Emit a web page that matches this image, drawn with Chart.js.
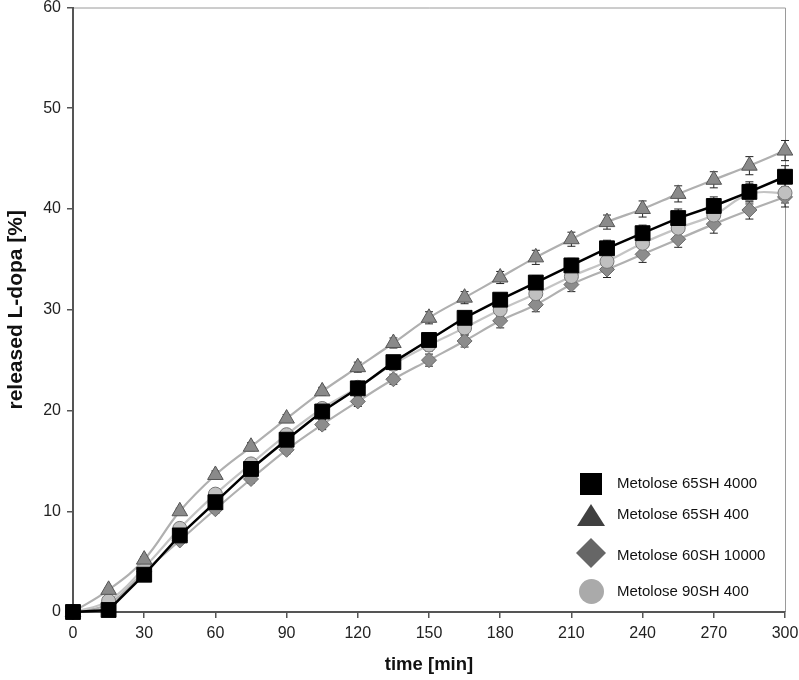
<!DOCTYPE html>
<html>
<head>
<meta charset="utf-8">
<script src="https://cdn.jsdelivr.net/npm/chart.js@4"></script>
<style>
html,body{margin:0;padding:0;background:#fff;overflow:hidden;}
#wrap{width:799px;height:680px;position:relative;overflow:hidden;}
#c{position:absolute;left:0;top:-4px;}
</style>
</head>
<body>
<div id="wrap"><canvas id="c" width="799" height="684"></canvas></div>
<script>
const times = [0,15,30,45,60,75,90,105,120,135,150,165,180,195,210,225,240,255,270,285,300];
const xTicks = [0,30,60,90,120,150,180,210,240,270,300];
const yTicks = [0,10,20,30,40,50,60];
const seriesNames = ['Metolose 65SH 4000','Metolose 65SH 400','Metolose 60SH 10000','Metolose 90SH 400'];
const sq65_4000 = [0,0.2,3.7,7.6,10.9,14.2,17.1,19.9,22.2,24.8,27.0,29.2,31.0,32.7,34.4,36.1,37.6,39.1,40.3,41.7,43.2];
const tri65_400 = [0,2.2,5.2,10.0,13.6,16.4,19.2,21.9,24.3,26.7,29.2,31.2,33.2,35.2,37.0,38.7,40.0,41.5,42.9,44.3,45.8];
const dia60_10000 = [0,0.8,4.0,7.1,10.2,13.2,16.1,18.6,20.9,23.1,25.0,26.9,28.9,30.5,32.5,34.0,35.5,37.0,38.5,39.9,41.2];
const cir90_400 = [0,1.1,4.4,8.3,11.7,14.7,17.6,20.2,22.3,24.6,26.5,28.2,30.0,31.6,33.3,34.8,36.6,38.1,39.4,41.5,41.6];
const errSq = [0,0.1,0.2,0.3,0.3,0.4,0.4,0.5,0.5,0.5,0.6,0.6,0.6,0.7,0.7,0.8,0.8,0.9,0.9,1.0,1.1];
const errTri = [0,0.2,0.3,0.3,0.4,0.4,0.4,0.4,0.5,0.5,0.6,0.6,0.6,0.7,0.7,0.7,0.8,0.8,0.8,0.9,1.0];
const errDia = [0,0.2,0.3,0.3,0.4,0.4,0.4,0.5,0.5,0.5,0.6,0.6,0.7,0.7,0.7,0.8,0.8,0.8,0.9,0.9,1.0];
const errCir = [0,0.2,0.3,0.3,0.4,0.4,0.5,0.5,0.5,0.6,0.6,0.7,0.7,0.7,0.8,0.8,0.9,0.9,1.0,1.0,1.0];

function pts(arr){ return times.map((t,i)=>({x:t,y:arr[i]})); }

const errorBars = {
  id:'errorBars',
  beforeDatasetsDraw(chart){
    const ctx = chart.ctx, xs = chart.scales.x, ys = chart.scales.y;
    ctx.save();
    ctx.strokeStyle = '#222'; ctx.lineWidth = 1;
    chart.data.datasets.forEach(ds=>{
      ds.data.forEach((p,i)=>{
        const e = ds.err[i]; if(!e) return;
        const x = xs.getPixelForValue(p.x);
        const y1 = ys.getPixelForValue(p.y+e), y2 = ys.getPixelForValue(p.y-e);
        ctx.beginPath();
        ctx.moveTo(x,y1); ctx.lineTo(x,y2);
        ctx.moveTo(x-4,y1); ctx.lineTo(x+4,y1);
        ctx.moveTo(x-4,y2); ctx.lineTo(x+4,y2);
        ctx.stroke();
      });
    });
    ctx.restore();
  }
};

const OFF = 4; // canvas is shifted up by this many pixels
const frameAndLegend = {
  id:'frameAndLegend',
  beforeDraw(chart){
    const ctx = chart.ctx, a = chart.chartArea;
    ctx.save();
    ctx.strokeStyle = '#9a9a9a'; ctx.lineWidth = 1;
    ctx.beginPath();
    ctx.moveTo(a.left, a.top+0.5); ctx.lineTo(a.right+0.5, a.top+0.5); ctx.lineTo(a.right+0.5, a.bottom);
    ctx.stroke();
    ctx.restore();
  },
  afterDraw(chart){
    const ctx = chart.ctx;
    ctx.save();
    ctx.translate(0, OFF);
    const rows = [
      {y:484, ty:484},
      {y:516, ty:515},
      {y:553, ty:556},
      {y:591.5, ty:592}
    ];
    const mx = 591;
    ctx.fillStyle = '#000';
    ctx.fillRect(mx-11, rows[0].y-11, 22, 22);
    ctx.fillStyle = '#404040';
    ctx.beginPath();
    ctx.moveTo(mx, rows[1].y-12); ctx.lineTo(mx+14, rows[1].y+10); ctx.lineTo(mx-14, rows[1].y+10); ctx.closePath(); ctx.fill();
    ctx.fillStyle = '#666';
    ctx.beginPath();
    ctx.moveTo(mx, rows[2].y-15); ctx.lineTo(mx+15, rows[2].y); ctx.lineTo(mx, rows[2].y+15); ctx.lineTo(mx-15, rows[2].y); ctx.closePath(); ctx.fill();
    ctx.fillStyle = '#aaa';
    ctx.beginPath(); ctx.arc(mx+0.5, rows[3].y, 12.5, 0, Math.PI*2); ctx.fill();
    ctx.fillStyle = '#111';
    ctx.font = '15px "Liberation Sans", Arial, sans-serif';
    ctx.textBaseline = 'middle'; ctx.textAlign = 'left';
    seriesNames.forEach((n,i)=>ctx.fillText(n, 617, rows[i].ty));
    ctx.restore();
  }
};

const FONT = '"Liberation Sans", Arial, sans-serif';
new Chart(document.getElementById('c'), {
  type:'line',
  data:{
    datasets:[
      {label:seriesNames[0], data:pts(sq65_4000), err:errSq, borderColor:'#000', borderWidth:2.5, tension:0,
        pointStyle:'rect', pointRadius:10.5, pointBackgroundColor:'#000', pointBorderColor:'#000', pointBorderWidth:1},
      {label:seriesNames[1], data:pts(tri65_400), err:errTri, borderColor:'#b0b0b0', borderWidth:2.2, tension:0.4,
        pointStyle:'triangle', pointRadius:9, pointBackgroundColor:'#8a8a8a', pointBorderColor:'#555', pointBorderWidth:1},
      {label:seriesNames[3], data:pts(cir90_400), err:errCir, borderColor:'#c4c4c4', borderWidth:2.2, tension:0.4,
        pointStyle:'circle', pointRadius:7, pointBackgroundColor:'#c0c0c0', pointBorderColor:'#777', pointBorderWidth:1},
      {label:seriesNames[2], data:pts(dia60_10000), err:errDia, borderColor:'#b0b0b0', borderWidth:2.2, tension:0.4,
        pointStyle:'rectRot', pointRadius:7.5, pointBackgroundColor:'#8c8c8c', pointBorderColor:'#6a6a6a', pointBorderWidth:1}
    ]
  },
  options:{
    responsive:false, animation:false, clip:false,
    layout:{padding:{top:3,right:14,left:0,bottom:0}},
    plugins:{legend:{display:false}, tooltip:{enabled:false}},
    scales:{
      x:{type:'linear', min:0, max:300,
        afterFit(s){ s.height = 68; s.paddingLeft = 0; s.paddingRight = 0; },
        afterBuildTicks(s){ s.ticks = xTicks.map(v=>({value:v})); },
        ticks:{font:{size:16, family:FONT}, color:'#222', padding:6, maxRotation:0},
        grid:{drawOnChartArea:false, drawTicks:true, tickLength:6, color:'#555', lineWidth:1.5},
        border:{display:true, color:'#555', width:2},
        title:{display:true, text:'time [min]', font:{size:18.5, weight:'bold', family:FONT}, color:'#111', padding:{top:0,bottom:4}}
      },
      y:{type:'linear', min:0, max:60,
        afterFit(s){ s.width = 73; s.paddingTop = 0; s.paddingBottom = 0; },
        afterBuildTicks(s){ s.ticks = yTicks.map(v=>({value:v})); },
        ticks:{font:{size:16, family:FONT}, color:'#222', padding:6},
        grid:{drawOnChartArea:false, drawTicks:true, tickLength:6, color:'#555', lineWidth:1.5},
        border:{display:true, color:'#555', width:2},
        title:{display:true, text:'released L-dopa [%]', font:{size:21, weight:'bold', family:FONT}, color:'#111', padding:{top:4,bottom:0}}
      }
    }
  },
  plugins:[errorBars, frameAndLegend]
});
</script>
</body>
</html>
